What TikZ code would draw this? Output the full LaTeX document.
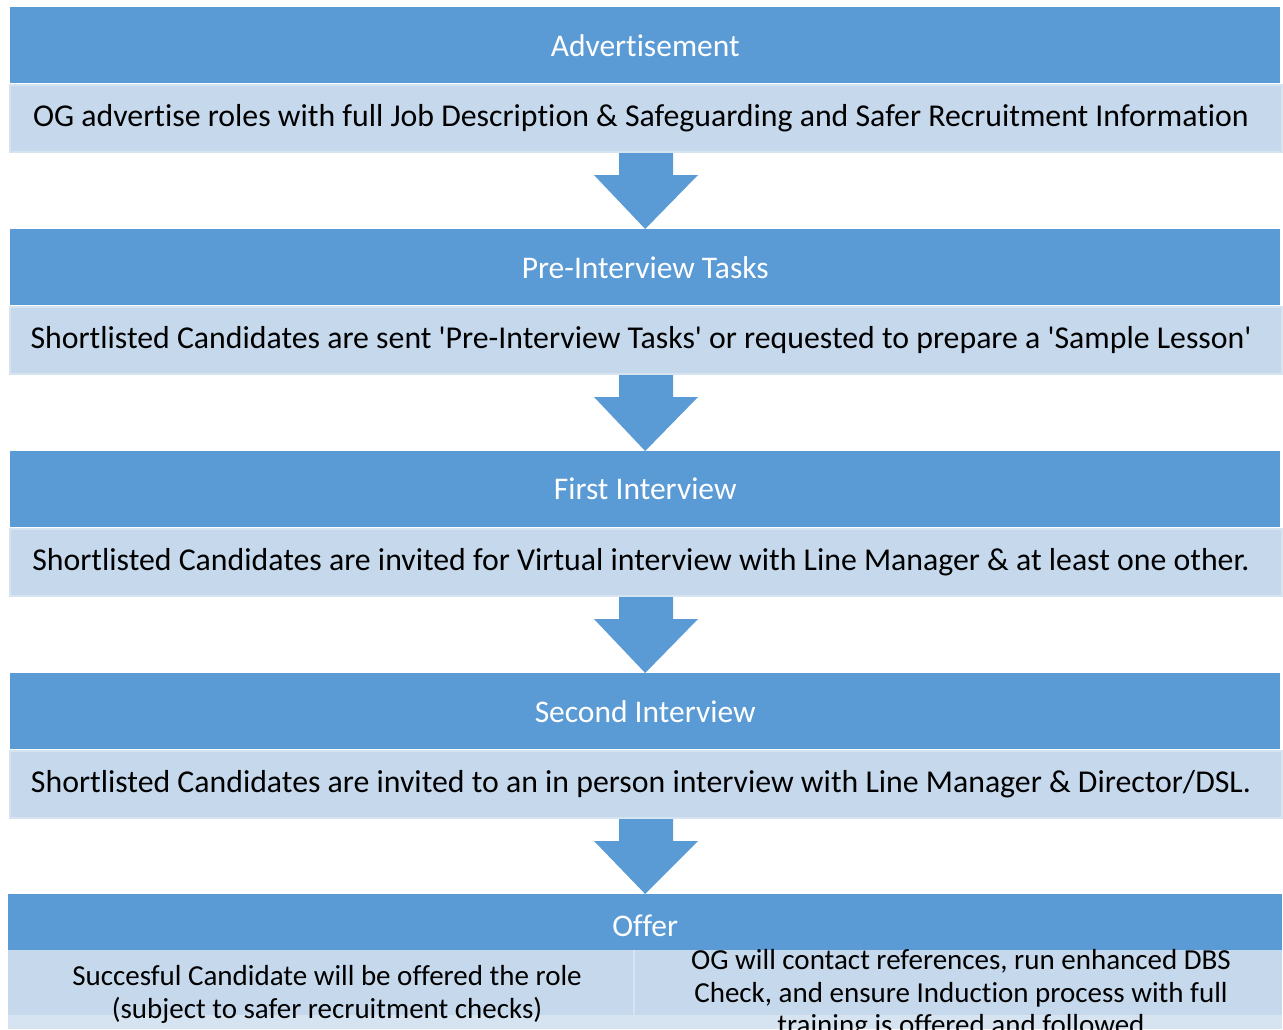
\documentclass[tikz,border=0pt]{standalone}
\usepackage{fontspec}
\setmainfont{Carlito}[Ligatures={NoCommon}]
\usetikzlibrary{calc}
\definecolor{hdrc}{HTML}{5B9BD5}
\definecolor{bodyc}{HTML}{C5D8EC}
\definecolor{edgec}{HTML}{D6E3F1}
\begin{document}
\begin{tikzpicture}[x=1pt,y=-1pt,
  hdr/.style={fill=hdrc, text=white, anchor=north west, inner sep=0, minimum width=1270pt, minimum height=76pt, font=\fontsize{31.5}{36}\selectfont},
  bodybox/.style={fill=bodyc, draw=edgec, line width=2pt, anchor=north west, inner sep=0, minimum width=1272pt, minimum height=67pt, font=\fontsize{31.8}{36}\selectfont, execute at end node={\hspace*{10pt}}},
  offerbox/.style={fill=bodyc, anchor=north west, inner sep=0, minimum width=637pt, minimum height=79pt},
  downarrow/.style={fill=hdrc}]
\useasboundingbox (0,0) rectangle (1283,1029);
\clip (0,0) rectangle (1283,1029);
\fill[white] (0,0) rectangle (1283,1029);
% stages
\node[hdr] (h1) at (10,7) {Advertisement};
\node[bodybox] (b1) at (9,84) {OG advertise roles with full Job Description \& Safeguarding and Safer Recruitment Information};
\node[hdr] (h2) at (10,229) {Pre-Interview Tasks};
\node[bodybox] (b2) at (9,306) {Shortlisted Candidates are sent \textquotesingle Pre-Interview Tasks\textquotesingle{} or requested to prepare a \textquotesingle Sample Lesson\textquotesingle};
\node[hdr] (h3) at (10,451) {First Interview};
\node[bodybox] (b3) at (9,528) {Shortlisted Candidates are invited for Virtual interview with Line Manager \& at least one other.};
\node[hdr] (h4) at (10,673) {Second Interview};
\node[bodybox] (b4) at (9,750) {Shortlisted Candidates are invited to an in person interview with Line Manager \& Director/DSL.};
\node[hdr, minimum width=1274pt, minimum height=56pt, text height=28pt, text depth=0pt] (h5) at (8,894) {Offer};
% offer boxes
\node[offerbox] (o1) at (8,950) {};
\node[offerbox] (o2) at (645,950) {};
\fill[edgec] (8,1015) rectangle (1282,1029);
\draw[edgec, line width=1.5pt] (634,950) -- (634,1029);
\node[align=center, font=\fontsize{29}{33}\selectfont, anchor=north] (t1) at (327,962) {Succesful Candidate will be offered the role\\(subject to safer recruitment checks)};
\node[align=center, font=\fontsize{29}{32.5}\selectfont, anchor=north] (t2) at (961,946) {OG will contact references, run enhanced DBS\\Check, and ensure Induction process with full\\training is offered and followed};
% arrows
\foreach \a/\b in {b1/h2, b2/h3, b3/h4, b4/h5}{
  \fill[downarrow] ($(\a.south)+(-27,0)$) -- ($(\a.south)+(27,0)$) -- ($(\a.south)+(27,22)$) -- ($(\a.south)+(52,22)$) -- (\b.north) -- ($(\a.south)+(-52,22)$) -- ($(\a.south)+(-27,22)$) -- cycle;
}
\end{tikzpicture}
\end{document}
